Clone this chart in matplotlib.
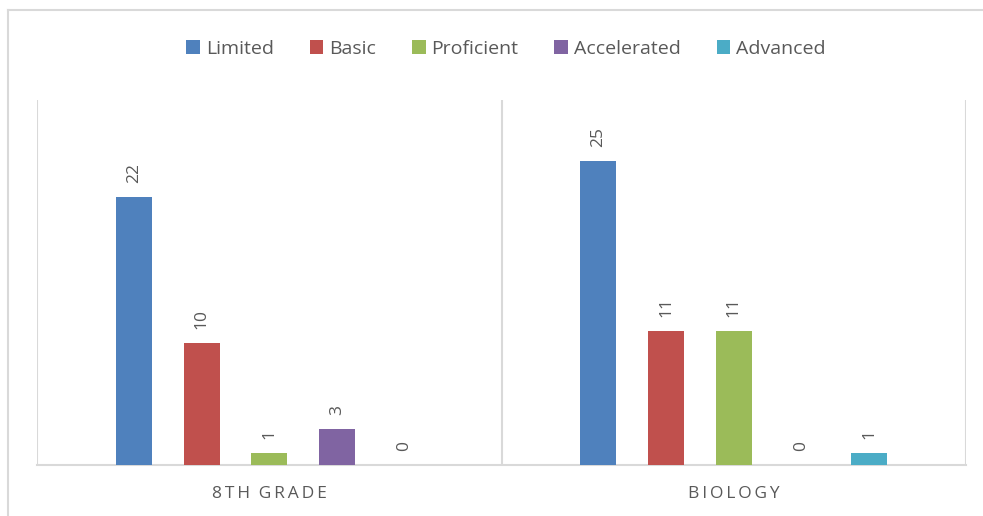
import matplotlib
matplotlib.use("Agg")
import matplotlib.pyplot as plt
from matplotlib.lines import Line2D
import numpy as np

categories = ["8TH GRADE", "BIOLOGY"]
series = ["Limited", "Basic", "Proficient", "Accelerated", "Advanced"]
values = {
    "Limited": [22, 25],
    "Basic": [10, 11],
    "Proficient": [1, 11],
    "Accelerated": [3, 0],
    "Advanced": [0, 1],
}
colors = ["#4F81BD", "#C0504D", "#9BBB59", "#8064A2", "#4BACC6"]

FONT = ["Open Sans", "DejaVu Sans"]
TXT = "#595959"
GRID = "#D9D9D9"

W, H = 983, 516
fig = plt.figure(figsize=(W / 100, H / 100), dpi=100)
ax = fig.add_axes([37 / W, 1 - 465 / H, (966 - 37) / W, (465 - 100) / H])

step = 0.1457
width = 0.0776
x = np.arange(len(categories))
for i, (s, c) in enumerate(zip(series, colors)):
    xs = x + (i - 2) * step
    bars = ax.bar(xs, values[s], width=width, color=c, label=s, zorder=3)
    for xi, v in zip(xs, values[s]):
        ax.annotate(str(v), (xi, v), xytext=(0, 10), textcoords="offset points",
                    rotation=90, ha="center", va="bottom", fontsize=12.5,
                    color=TXT, family=FONT)

ax.set_xlim(-0.5, 1.5)
ax.set_ylim(0, 30)
ax.set_yticks([])
ax.set_xticks(x)
spaced = ["\u2009".join(list(c)).replace("\u2009 \u2009", "\u2009\u2009\u2009") for c in categories]
ax.set_xticklabels(spaced, fontsize=12.5, color=TXT, family=FONT)
ax.tick_params(axis="x", length=0, pad=15)
for sp in ["top", "left", "right"]:
    ax.spines[sp].set_visible(False)
ax.spines["bottom"].set_color(GRID)
ax.spines["bottom"].set_linewidth(1.5)
for gx in [-0.5, 0.5, 1.5]:
    ax.axvline(gx, color=GRID, lw=1.5, zorder=1)

leg = fig.legend(loc="center", bbox_to_anchor=(506 / W, 1 - 49 / H), ncol=5,
                 frameon=False, handlelength=0.7, handleheight=0.7,
                 handletextpad=0.3, columnspacing=1.85,
                 prop={"family": FONT, "size": 14})
for t in leg.get_texts():
    t.set_color(TXT)

# outer chart border
fig.add_artist(Line2D([8 / W, 8 / W], [0, 1 - 10 / H], transform=fig.transFigure, color=GRID, lw=1.5))
fig.add_artist(Line2D([8 / W, 1], [1 - 10 / H, 1 - 10 / H], transform=fig.transFigure, color=GRID, lw=1.5))

fig.savefig("out.png", dpi=100)
